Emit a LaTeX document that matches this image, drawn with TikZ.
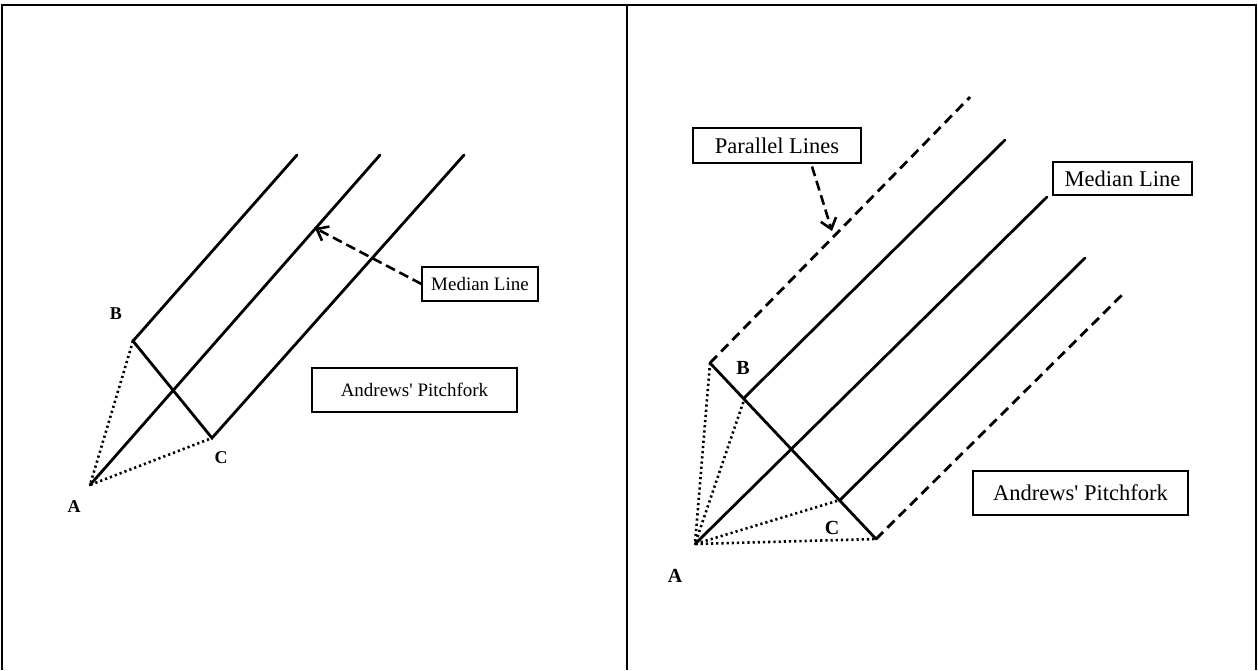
\documentclass[tikz,border=0pt]{standalone}
\usepackage{fontspec}
\setmainfont{Liberation Serif}
\usetikzlibrary{arrows.meta,calc}
\tikzset{
  fork/.style={line width=2.8pt, line cap=round},
  guide/.style={line width=2.6pt, dash pattern=on 2.2pt off 3pt},
  dashfork/.style={line width=2.8pt, dash pattern=on 10pt off 6pt},
  frame/.style={line width=1.4pt},
  callout/.style={draw, line width=1.1pt, inner sep=0pt},
  smalltxt/.style={font=\fontsize{19}{22}\selectfont},
  bigtxt/.style={font=\fontsize{22.5}{26}\selectfont},
  ptlabel/.style={inner sep=0pt, font=\bfseries\fontsize{18}{20}\selectfont},
  pointer/.style={line width=2.6pt, dash pattern=on 10pt off 5pt, -{Straight Barb[length=10pt,width=16pt,line width=2.6pt]}}
}
\begin{document}
\begin{tikzpicture}[x=1pt,y=-1pt]
\useasboundingbox (0,0) rectangle (1258,670);
% frame
\draw[frame] (2,670) -- (2,5) -- (1256,5) -- (1256,670);
\draw[frame] (627,5) -- (627,670);

% ---------- left panel ----------
\coordinate (lA) at (90,485);
\coordinate (lB) at (133,341);
\coordinate (lC) at (212,438);
\coordinate (lBt) at (297,155);
\coordinate (lMt) at (380,155);
\coordinate (lCt) at (464,155);
\coordinate (lTip) at (315,228);
\draw[fork] (lBt) -- (lB) -- (lC) -- (lCt);
\draw[fork] (lA) -- (lMt);
\draw[guide] (lB) -- (lA) -- (lC);
\node[ptlabel] (lLB) at (116,314) {B};
\node[ptlabel] (lLC) at (221,458) {C};
\node[ptlabel] (lLA) at (74,507) {A};
\node[callout, smalltxt, minimum width=116pt, minimum height=34pt] (lML) at (480,284) {Median Line};
\node[callout, smalltxt, minimum width=205pt, minimum height=44pt] (lAP) at (414.5,390) {Andrews\textquotesingle{} Pitchfork};
\draw[pointer] (lML.west) -- (lTip);

% ---------- right panel ----------
\coordinate (rA) at (695,544);
\coordinate (rP1) at (710,363);
\coordinate (rB) at (745,397);
\coordinate (rC) at (840,500);
\coordinate (rP2) at (876,539);
\coordinate (rP1t) at (970,97);
\coordinate (rBt) at (1005,140);
\coordinate (rMt) at (1047,197);
\coordinate (rCt) at (1085,258);
\coordinate (rP2t) at (1125,292);
\coordinate (rTip) at (832,231);
\draw[fork] (rP1) -- (rP2);
\draw[fork] (rB) -- (rBt);
\draw[fork] (rC) -- (rCt);
\draw[fork] (rA) -- (rMt);
\draw[dashfork] (rP1) -- (rP1t);
\draw[dashfork] (rP2) -- (rP2t);
\draw[guide] (rP1) -- (rA) -- (rP2);
\draw[guide] (rB) -- (rA) -- (rC);
\node[ptlabel, font=\bfseries\fontsize{20}{22}\selectfont] (rLB) at (743,368) {B};
\node[ptlabel, font=\bfseries\fontsize{20}{22}\selectfont] (rLC) at (832,528) {C};
\node[ptlabel, font=\bfseries\fontsize{20}{22}\selectfont] (rLA) at (675,576) {A};
\node[callout, bigtxt, minimum width=168pt, minimum height=35pt] (rPL) at (777,145.5) {Parallel Lines};
\node[callout, bigtxt, minimum width=139pt, minimum height=33pt] (rML) at (1122.5,178.5) {Median Line};
\node[callout, bigtxt, minimum width=215pt, minimum height=44pt] (rAP) at (1080.5,493) {Andrews\textquotesingle{} Pitchfork};
\coordinate (rPLs) at ($(rPL.south)+(35,3)$);
\draw[pointer] (rPLs) -- (rTip);
\end{tikzpicture}
\end{document}
